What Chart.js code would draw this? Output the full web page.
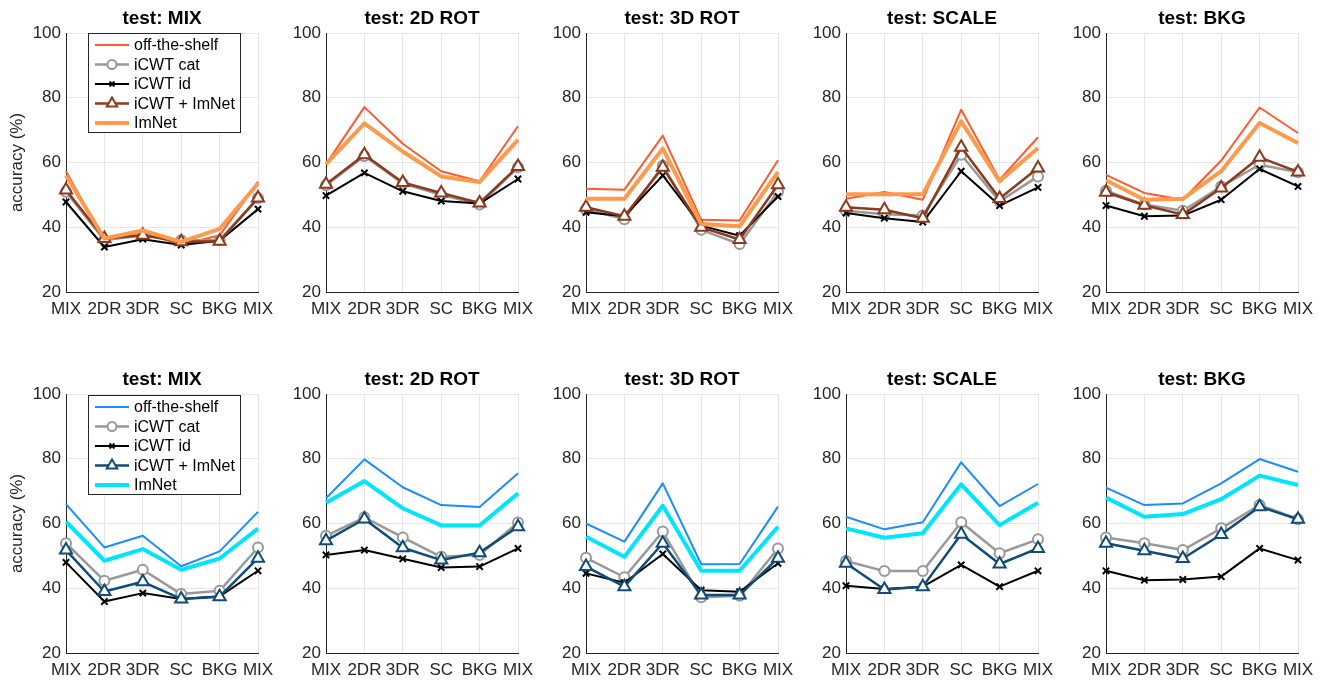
<!DOCTYPE html>
<html><head><meta charset="utf-8">
<script src="https://cdn.jsdelivr.net/npm/chart.js@4.4.1/dist/chart.umd.min.js"></script>
<style>
html,body{margin:0;padding:0;background:#fff;width:1322px;height:684px;overflow:hidden;position:relative}
canvas{position:absolute}
</style></head><body>
<script>
// ---------- data ----------
const categories = ['MIX', '2DR', '3DR', 'SC', 'BKG', 'MIX'];
const yTickValues = [20, 40, 60, 80, 100];
const panelTitles = ['test: MIX', 'test: 2D ROT', 'test: 3D ROT', 'test: SCALE', 'test: BKG'];
const seriesNames = ['off-the-shelf', 'iCWT cat', 'iCWT id', 'iCWT + ImNet', 'ImNet'];
const yAxisLabel = 'accuracy (%)';

// top row (orange palette)
const topMixOff   = [57.3, 36.0, 38.5, 34.5, 37.5, 54.0];
const topMixCat   = [51.0, 36.0, 37.5, 36.0, 36.0, 49.0];
const topMixId    = [47.8, 33.9, 36.3, 34.5, 35.8, 45.6];
const topMixTri   = [51.5, 36.5, 37.5, 35.5, 35.7, 49.0];
const topMixImn   = [56.0, 36.5, 39.0, 35.5, 39.5, 53.5];

const top2dOff    = [59.5, 77.1, 65.8, 57.3, 54.2, 71.2];
const top2dCat    = [53.0, 62.0, 53.5, 50.0, 47.0, 58.5];
const top2dId     = [49.8, 56.8, 51.1, 48.1, 47.3, 54.9];
const top2dTri    = [53.3, 62.4, 53.8, 50.6, 47.5, 58.8];
const top2dImn    = [59.5, 72.1, 63.4, 55.7, 54.0, 67.0];

const top3dOff    = [51.9, 51.6, 68.3, 42.3, 42.1, 60.7];
const top3dCat    = [45.5, 42.5, 59.0, 39.2, 34.8, 51.0];
const top3dId     = [44.6, 43.4, 56.0, 40.5, 37.4, 49.5];
const top3dTri    = [46.2, 43.4, 58.5, 40.0, 36.2, 53.1];
const top3dImn    = [48.8, 48.8, 64.3, 41.0, 40.3, 57.1];

const topScOff    = [48.8, 50.9, 48.5, 76.3, 54.7, 67.8];
const topScCat    = [45.1, 44.0, 43.6, 62.4, 48.0, 55.7];
const topScId     = [44.4, 42.8, 41.6, 57.3, 46.7, 52.3];
const topScTri    = [46.2, 45.4, 42.8, 64.7, 48.9, 58.3];
const topScImn    = [50.2, 50.2, 50.2, 72.7, 54.2, 64.5];

const topBkgOff   = [56.2, 50.6, 48.5, 60.6, 77.0, 69.1];
const topBkgCat   = [51.3, 47.0, 45.1, 52.6, 59.3, 57.0];
const topBkgId    = [46.7, 43.4, 43.6, 48.5, 58.0, 52.6];
const topBkgTri   = [50.8, 46.8, 43.9, 52.1, 61.6, 57.1];
const topBkgImn   = [54.5, 48.5, 48.8, 57.3, 72.2, 66.0];

// bottom row (blue palette)
const botMixOff   = [66.0, 52.6, 56.2, 46.8, 51.4, 63.6];
const botMixCat   = [53.9, 42.3, 45.7, 38.2, 39.2, 52.6];
const botMixId    = [48.0, 35.9, 38.5, 36.7, 37.5, 45.4];
const botMixTri   = [51.8, 39.0, 42.0, 36.7, 37.4, 49.3];
const botMixImn   = [60.6, 48.5, 52.1, 45.7, 49.2, 58.4];

const bot2dOff    = [67.8, 79.8, 71.2, 65.7, 65.1, 75.5];
const bot2dCat    = [56.2, 61.9, 55.7, 49.7, 50.3, 60.3];
const bot2dId     = [50.3, 51.8, 49.1, 46.4, 46.7, 52.3];
const bot2dTri    = [54.7, 61.4, 52.5, 48.7, 51.0, 59.0];
const bot2dImn    = [66.4, 73.1, 64.7, 59.4, 59.4, 69.3];

const bot3dOff    = [60.0, 54.4, 72.4, 47.4, 47.5, 65.2];
const bot3dCat    = [49.4, 43.4, 57.5, 37.2, 37.7, 52.3];
const bot3dId     = [44.6, 41.7, 50.6, 39.4, 38.9, 47.7];
const bot3dTri    = [46.7, 40.5, 53.9, 37.9, 37.9, 49.3];
const bot3dImn    = [55.9, 49.7, 65.5, 45.4, 45.4, 59.0];

const botScOff    = [62.1, 58.2, 60.4, 78.9, 65.4, 72.2];
const botScCat    = [48.4, 45.3, 45.3, 60.4, 50.8, 55.1];
const botScId     = [40.8, 39.8, 40.5, 47.2, 40.5, 45.4];
const botScTri    = [47.7, 39.6, 40.5, 56.7, 47.5, 52.3];
const botScImn    = [58.5, 55.6, 57.0, 72.1, 59.5, 66.4];

const botBkgOff   = [71.1, 65.7, 66.2, 72.4, 79.9, 76.0];
const botBkgCat   = [55.7, 53.9, 51.8, 58.5, 65.7, 61.3];
const botBkgId    = [45.4, 42.5, 42.7, 43.6, 52.3, 48.7];
const botBkgTri   = [53.9, 51.6, 49.2, 56.6, 65.2, 61.3];
const botBkgImn   = [68.0, 62.1, 62.9, 67.5, 74.8, 71.9];

const topRowData = [
  [topMixOff, topMixCat, topMixId, topMixTri, topMixImn],
  [top2dOff, top2dCat, top2dId, top2dTri, top2dImn],
  [top3dOff, top3dCat, top3dId, top3dTri, top3dImn],
  [topScOff, topScCat, topScId, topScTri, topScImn],
  [topBkgOff, topBkgCat, topBkgId, topBkgTri, topBkgImn]
];
const botRowData = [
  [botMixOff, botMixCat, botMixId, botMixTri, botMixImn],
  [bot2dOff, bot2dCat, bot2dId, bot2dTri, bot2dImn],
  [bot3dOff, bot3dCat, bot3dId, bot3dTri, bot3dImn],
  [botScOff, botScCat, botScId, botScTri, botScImn],
  [botBkgOff, botBkgCat, botBkgId, botBkgTri, botBkgImn]
];

// ---------- styles ----------
const FONT = "'Liberation Sans', Arial, Helvetica, sans-serif";
const topColors = ['#FF5A2D', '#999999', '#000000', '#8C3A1E', '#FF9A4D'];
const botColors = ['#1A8CFF', '#999999', '#000000', '#0F4C78', '#00E5FF'];
const lineWidths = [2, 2.5, 2, 2.5, 4];
const pointStyles = ['circle', 'circle', 'crossRot', 'triangle', 'circle'];
const pointRadii = [0, 5, 4.5, 7, 0];
const drawOrders = [5, 4, 3, 2, 1];

// centre the panel title over the plot area
const titleOverPlotPlugin = {
  id: 'titleOverPlot',
  afterLayout(chart) {
    const t = chart.titleBlock;
    if (t) { t.left = chart.chartArea.left; t.right = chart.chartArea.right; }
  }
};

const boxLegendPlugin = {
  id: 'boxLegend',
  afterDraw(chart) {
    const opts = chart.options.plugins.boxLegend;
    if (!opts || !opts.show) return;
    const ctx = chart.ctx, ca = chart.chartArea;
    const x0 = Math.round(ca.left + opts.dx), y0 = Math.round(ca.top + opts.dy);
    const w = opts.w, h = opts.h;
    ctx.save();
    ctx.fillStyle = '#ffffff';
    ctx.fillRect(x0, y0, w, h);
    ctx.strokeStyle = '#262626';
    ctx.lineWidth = 1;
    ctx.strokeRect(x0 + 0.5, y0 + 0.5, w, h);
    chart.data.datasets.forEach((ds, k) => {
      const cy = y0 + opts.firstRow + k * opts.rowGap;
      ctx.strokeStyle = ds.borderColor;
      ctx.lineWidth = ds.borderWidth;
      ctx.beginPath();
      ctx.moveTo(x0 + 7, cy);
      ctx.lineTo(x0 + 41, cy);
      ctx.stroke();
      if (ds.pointRadius > 0) {
        ctx.fillStyle = ds.pointBackgroundColor;
        ctx.strokeStyle = ds.borderColor;
        ctx.lineWidth = ds.pointBorderWidth;
        Chart.helpers.drawPoint(ctx, {
          pointStyle: ds.pointStyle,
          radius: ds.pointStyle === 'crossRot' ? 3.5 : (ds.pointStyle === 'triangle' ? 6 : 4.5),
          borderWidth: ds.pointBorderWidth,
          rotation: 0
        }, x0 + 24, cy);
      }
      ctx.fillStyle = '#000000';
      ctx.font = '16px ' + FONT;
      ctx.textBaseline = 'middle';
      ctx.textAlign = 'left';
      ctx.fillText(ds.label, x0 + 46, cy + 1);
    });
    ctx.restore();
  }
};

const PLOT_W = 192, PLOT_H = 259, AX_W = 66, TITLE_H = 33, XAX_H = 35, RIGHT_PAD = 30;
const rowTops = [33, 394];

function makePanel(row, col) {
  const plotLeft = 66 + 260 * col;
  const plotTop = rowTops[row];
  const cv = document.createElement('canvas');
  const cw = AX_W + PLOT_W + RIGHT_PAD, ch = TITLE_H + PLOT_H + XAX_H;
  cv.width = cw; cv.height = ch;
  cv.style.width = cw + 'px'; cv.style.height = ch + 'px';
  cv.style.left = (plotLeft - AX_W) + 'px';
  cv.style.top = (plotTop - TITLE_H) + 'px';
  document.body.appendChild(cv);

  const colors = row === 0 ? topColors : botColors;
  const seriesData = row === 0 ? topRowData[col] : botRowData[col];
  const datasets = seriesNames.map((name, i) => ({
    label: name,
    data: seriesData[i],
    borderColor: colors[i],
    backgroundColor: colors[i],
    borderWidth: lineWidths[i],
    pointStyle: pointStyles[i],
    pointRadius: pointRadii[i],
    pointHoverRadius: pointRadii[i],
    pointBorderWidth: 2,
    pointBorderColor: colors[i],
    pointBackgroundColor: '#ffffff',
    tension: 0,
    fill: false,
    order: drawOrders[i],
    borderJoinStyle: 'round'
  }));

  const showLegend = col === 0;
  new Chart(cv, {
    type: 'line',
    data: { labels: categories, datasets },
    plugins: [titleOverPlotPlugin, boxLegendPlugin],
    options: {
      responsive: false,
      animation: false,
      events: [],
      layout: { padding: { left: 0, right: RIGHT_PAD, top: 0, bottom: 0 } },
      plugins: {
        legend: { display: false },
        tooltip: { enabled: false },
        title: {
          display: true,
          text: panelTitles[col],
          color: '#000000',
          font: { family: FONT, size: 19, weight: 'bold', lineHeight: '22px' },
          padding: { top: 8, bottom: 3 }
        },
        boxLegend: { show: showLegend, dx: 22, dy: row === 0 ? 0 : 1, w: 152, h: 99, firstRow: 12, rowGap: 19.5 }
      },
      scales: {
        x: {
          type: 'category',
          offset: false,
          afterFit: s => { s.height = XAX_H; },
          grid: { color: '#e6e6e6', drawTicks: false, lineWidth: 1 },
          border: { display: true, color: '#262626', width: 1 },
          ticks: { color: '#262626', font: { family: FONT, size: 17 }, padding: 7, maxRotation: 0, minRotation: 0, autoSkip: false }
        },
        y: {
          min: 20, max: 100,
          afterFit: s => { s.width = AX_W; },
          afterBuildTicks: s => { s.ticks = yTickValues.map(v => ({ value: v })); },
          grid: { color: '#e6e6e6', drawTicks: false, lineWidth: 1 },
          border: { display: true, color: '#262626', width: 1 },
          ticks: { color: '#262626', font: { family: FONT, size: 17 }, padding: 5 },
          title: {
            display: col === 0,
            text: yAxisLabel,
            color: '#262626',
            font: { family: FONT, size: 17 },
            padding: { top: 7, bottom: 0 }
          }
        }
      }
    }
  });
}

for (let r = 0; r < 2; r++) for (let c = 0; c < 5; c++) makePanel(r, c);
</script>
</body></html>
